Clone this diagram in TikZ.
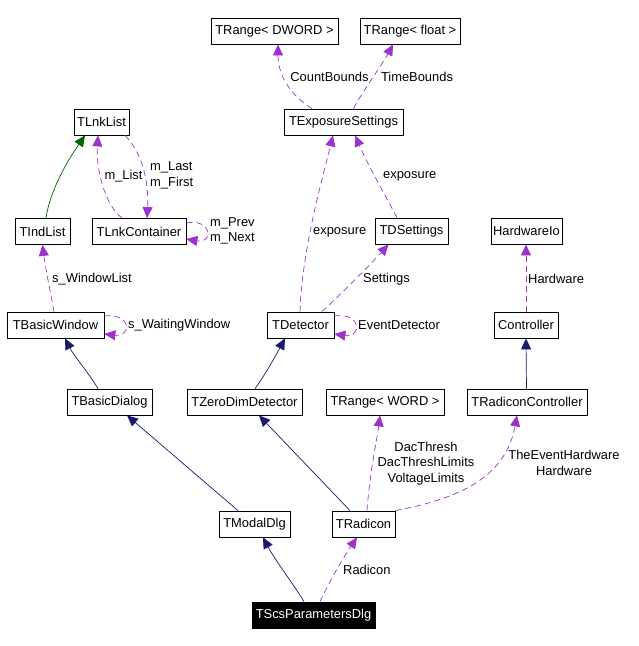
\documentclass[tikz,border=0pt]{standalone}
\usepackage{fontspec}
\setmainfont{Liberation Sans}
\usetikzlibrary{arrows.meta}
\definecolor{purp}{HTML}{9A32CD}
\definecolor{navyc}{HTML}{191970}
\definecolor{greenc}{HTML}{006400}
\begin{document}
\begin{tikzpicture}[x=1pt,y=-1pt,
  font=\fontsize{12.9}{15.5}\selectfont,
  cls/.style={draw=black,line width=0.8pt,fill=white,inner sep=0pt,minimum height=26pt},
  lbl/.style={inner sep=0pt,font=\fontsize{12.9}{15.5}\selectfont},
  inh/.style={draw=navyc,line width=0.7pt,-{Triangle[length=11pt,width=10pt,fill=navyc]}},
  inhg/.style={draw=greenc,line width=0.7pt,-{Triangle[length=11pt,width=10pt,fill=greenc]}},
  use/.style={draw=purp,line width=0.7pt,dash pattern=on 6pt off 4pt,-{Triangle[length=11pt,width=10pt,fill=purp]}}]
\useasboundingbox (0,0) rectangle (638,646);
% nodes
\node[cls,minimum width=127pt] (dword) at (274.5,31) {TRange< DWORD >};
\node[cls,minimum width=100pt] (float) at (410,31) {TRange< float >};
\node[cls,minimum width=119pt] (expo) at (343.5,122) {TExposureSettings};
\node[cls,minimum width=55pt] (lnklist) at (101.5,122) {TLnkList};
\node[cls,minimum width=55pt] (indlist) at (42.5,231.5) {TIndList};
\node[cls,minimum width=94pt] (lnkcont) at (139,231.5) {TLnkContainer};
\node[cls,minimum width=71pt] (hwio) at (526.5,231) {HardwareIo};
\node[cls,minimum width=73pt] (tdset) at (411.5,231) {TDSettings};
\node[cls,minimum width=97pt] (basicwin) at (55.5,325) {TBasicWindow};
\node[cls,minimum width=67pt] (tdet) at (300.5,325) {TDetector};
\node[cls,minimum width=64pt] (ctrl) at (526,325) {Controller};
\node[cls,minimum width=85pt] (basicdlg) at (109.5,402) {TBasicDialog};
\node[cls,minimum width=115pt] (zerodim) at (244.5,402) {TZeroDimDetector};
\node[cls,minimum width=118pt] (trword) at (385,402) {TRange< WORD >};
\node[cls,minimum width=120pt] (radctrl) at (527,402) {TRadiconController};
\node[cls,minimum width=71pt] (modal) at (254.5,524) {TModalDlg};
\node[cls,minimum width=63pt] (tradicon) at (363.5,524) {TRadicon};
\node[cls,minimum width=123pt,fill=black,text=white] (scs) at (313.5,615) {TScsParametersDlg};
% inheritance
\draw[inhg] ([xshift=3.5pt]indlist.north) .. controls (50,190) and (68,160) .. ([xshift=-16.5pt]lnklist.south);
\draw[inh] ([xshift=-11.5pt]basicdlg.north) .. controls (88,372) and (74,356) .. ([xshift=9.5pt]basicwin.south);
\draw[inh] ([xshift=-16.5pt]modal.north) -- ([xshift=17.5pt]basicdlg.south);
\draw[inh] ([xshift=-9.5pt]scs.north) .. controls (292,582) and (275,560) .. ([xshift=8.5pt]modal.south);
\draw[inh] ([xshift=-13.5pt]tradicon.north) -- ([xshift=14.5pt]zerodim.south);
\draw[inh] ([xshift=10.5pt]zerodim.north) .. controls (265,375) and (276,355) .. ([xshift=-15.5pt]tdet.south);
\draw[inh] ([xshift=-0.5pt]radctrl.north) -- (ctrl.south);
% usage
\draw[use] ([xshift=-31.5pt]expo.north) .. controls (290,95) and (278,75) .. ([xshift=3.5pt]dword.south);
\draw[use] ([xshift=10pt]expo.north) .. controls (362,92) and (382,65) .. ([xshift=-17pt]float.south);
\draw[use] ([xshift=-17pt]lnkcont.north) .. controls (105,205) and (96,170) .. ([xshift=-3.5pt]lnklist.south);
\draw[use] ([xshift=23.5pt]lnklist.south) .. controls (142,152) and (149,182) .. ([xshift=8pt]lnkcont.north);
\draw[use] ([yshift=8.5pt]lnkcont.east) .. controls (212,218) and (214,244) .. ([yshift=-7.5pt]lnkcont.east);
\draw[use] ([xshift=-1.5pt]basicwin.north) .. controls (50,290) and (45,265) .. (indlist.south);
\draw[use] ([yshift=9pt]basicwin.east) .. controls (132,313) and (132,337) .. ([yshift=-9pt]basicwin.east);
\draw[use] ([xshift=-0.5pt]tdet.north) .. controls (302,250) and (322,180) .. ([xshift=-10.5pt]expo.south);
\draw[use] ([xshift=-14.5pt]tdset.north) .. controls (385,195) and (368,165) .. ([xshift=11.5pt]expo.south);
\draw[use] ([xshift=21.5pt]tdet.north) .. controls (345,290) and (370,265) .. ([xshift=-23pt]tdset.south);
\draw[use] ([yshift=9pt]tdet.east) .. controls (362,312) and (362,338) .. ([yshift=-9pt]tdet.east);
\draw[use] (ctrl.north) -- ([xshift=-0.5pt]hwio.south);
\draw[use] ([xshift=3.5pt]tradicon.north) .. controls (370,470) and (377,440) .. ([xshift=-5pt]trword.south);
\draw[use] (tradicon.north east) .. controls (450,500) and (505,482) .. ([xshift=-10pt]radctrl.south);
\draw[use] ([xshift=6.5pt]scs.north) .. controls (330,580) and (345,555) .. ([xshift=-6.5pt]tradicon.south);
% labels
\node[lbl] (lcount) at (329.5,77) {CountBounds};
\node[lbl] (ltime) at (417,77) {TimeBounds};
\node[lbl] (llist) at (123.5,176) {m\_List};
\node[lbl,anchor=west,align=left] (llast) at (150,175.5) {m\_Last\\m\_First};
\node[lbl,anchor=west,align=left] (lprev) at (210,231) {m\_Prev\\m\_Next};
\node[lbl,anchor=west] (lwinlist) at (52,279) {s\_WindowList};
\node[lbl,anchor=west] (lwait) at (128,325) {s\_WaitingWindow};
\node[lbl,anchor=west] (lexpo1) at (313,232) {exposure};
\node[lbl,anchor=west] (lexpo2) at (383,176) {exposure};
\node[lbl,anchor=west] (lsett) at (363,279) {Settings};
\node[lbl,anchor=west] (levent) at (358,325) {EventDetector};
\node[lbl,anchor=west] (lhw) at (528,279) {Hardware};
\node[lbl,align=center] (ldac) at (426,463.5) {DacThresh\\DacThreshLimits\\VoltageLimits};
\node[lbl,align=center] (lteh) at (564,463) {TheEventHardware\\Hardware};
\node[lbl,anchor=west] (lrad) at (343,570) {Radicon};
\end{tikzpicture}
\end{document}
